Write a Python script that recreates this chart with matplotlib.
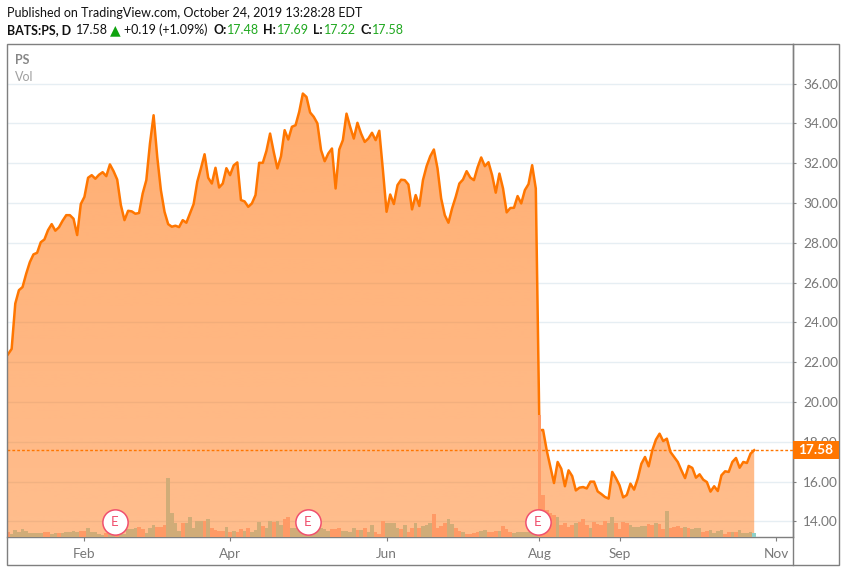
import numpy as np
import matplotlib
matplotlib.use('Agg')
import matplotlib.pyplot as plt
from matplotlib.lines import Line2D
from matplotlib.patches import Rectangle

W, H = 846, 572

# daily closes
close = [22.40, 22.67, 24.95, 25.62, 25.78, 26.45, 27.03, 27.42, 27.50, 28.03,
         28.17, 28.64, 28.94, 28.61, 28.78, 29.11, 29.39, 29.39, 29.21, 28.39,
         29.95, 30.31, 31.27, 31.40, 31.22, 31.42, 31.55, 31.35, 31.94, 31.60,
         31.18, 29.90, 29.14, 29.61, 29.58, 29.46, 29.50, 30.48, 31.15, 32.99,
         34.41, 32.32, 30.65, 29.56, 28.94, 28.81, 28.86, 28.79, 29.14, 29.01,
         29.48, 29.95, 31.07, 31.74, 32.45, 31.27, 30.98, 31.77, 30.78, 30.98,
         31.75, 31.40, 31.89, 32.04, 30.15, 30.08, 29.81, 29.98, 30.40, 32.02,
         32.02, 32.62, 33.49, 32.57, 31.74, 32.35, 33.66, 33.19, 33.83, 33.91,
         34.58, 35.50, 35.33, 34.55, 34.33, 34.00, 32.66, 32.10, 32.49, 32.74,
         30.73, 32.69, 33.16, 34.49, 33.83, 33.24, 34.03, 33.49, 33.07, 33.24,
         33.53, 33.16, 33.63, 31.65, 29.56, 30.43, 29.95, 30.90, 31.17, 31.15,
         30.93, 29.68, 30.40, 29.85, 31.15, 31.85, 32.35, 32.69, 31.74, 30.23,
         29.39, 29.01, 29.73, 30.31, 30.98, 31.18, 31.60, 31.28, 31.15, 31.79,
         32.29, 31.85, 32.05, 31.40, 30.52, 31.48, 30.73, 29.53, 29.75, 29.76,
         30.35, 29.98, 30.65, 30.95, 31.90, 30.73, 18.58, 18.60, 17.57, 16.74,
         15.93, 16.99, 16.65, 15.77, 16.57, 16.28, 15.56, 15.70, 15.73, 15.66,
         16.00, 16.00, 15.51, 15.38, 15.23, 15.15, 16.49, 16.18, 15.82, 15.21,
         15.33, 15.90, 15.60, 16.15, 16.90, 17.24, 16.77, 17.57, 18.11, 18.41,
         18.04, 18.16, 17.49, 17.24, 16.99, 16.57, 16.18, 16.79, 16.69, 16.20,
         16.37, 16.10, 15.98, 15.50, 15.77, 15.53, 16.32, 16.52, 16.49, 16.99,
         17.19, 16.70, 16.99, 16.94, 17.41, 17.58]

# volume, relative units (no scale on the chart)
volume = [14, 8, 21, 14, 24, 18, 12, 12, 12, 12,
          15, 15, 9, 11, 12, 12, 14, 16, 18, 15,
          19, 19, 27, 15, 15, 10, 7, 12, 10, 9,
          6, 8, 10, 24, 24, 28, 30, 25, 12, 28,
          36, 31, 29, 36, 176, 73, 43, 19, 41, 42,
          60, 28, 48, 48, 48, 54, 27, 21, 18, 18,
          30, 16, 18, 16, 24, 18, 27, 16, 21, 45,
          33, 28, 48, 46, 48, 36, 54, 60, 28, 28,
          30, 30, 30, 30, 30, 30, 26, 23, 18, 23,
          23, 27, 18, 18, 14, 27, 22, 22, 26, 16,
          36, 14, 9, 48, 43, 42, 42, 27, 25, 36,
          15, 27, 42, 27, 33, 35, 41, 69, 27, 33,
          41, 54, 39, 27, 18, 15, 9, 9, 12, 15,
          18, 21, 15, 15, 18, 18, 33, 24, 15, 12,
          15, 15, 15, 14, 14, 16, 366, 126, 81, 73,
          67, 60, 35, 43, 31, 36, 43, 46, 54, 36,
          27, 46, 40, 36, 48, 43, 60, 42, 24, 45,
          43, 36, 30, 31, 33, 33, 40, 36, 42, 39,
          24, 78, 27, 30, 33, 27, 30, 27, 24, 27,
          27, 15, 19, 21, 13, 18, 21, 9, 15, 15,
          15, 21, 12, 12, 15, 12]

# r = down day, t = up day (last one is today's)
vol_side = list('rttttttttt'
                'rrttrttttt'
                'rrtttttrtt'
                'rtttttrrtt'
                'trrrttttrt'
                'ttttrtrrrr'
                'trtrrtrttt'
                'rttrttrrtt'
                'tttttttttr'
                'rrttttrtrt'
                'trrrttttrt'
                'rrtrtttrrr'
                'rttrrtrrrr'
                'ttrrrtrrrt'
                'ttttttrrrr'
                'rtrrrrtrrr'
                'trrrrttrrr'
                'rtttttrrtr'
                'rtrrrrtrtt'
                'trrttttrrt'
                'rttttu')

price_ticks = [14, 16, 18, 20, 22, 24, 26, 28, 30, 32, 34, 36]
month_pos = [21, 61, 104, 146, 168, 211]
month_lab = ['Feb', 'Apr', 'Jun', 'Aug', 'Sep', 'Nov']
earnings_pos = [29.4, 82.4, 145.6]
last_price = 17.58

GREY = '#7f7f7f'
ORANGE = '#ff7600'
GREEN = '#1fa81f'
x = np.arange(len(close))

plt.rcParams['font.family'] = ['Lato', 'DejaVu Sans']

fig = plt.figure(figsize=(W / 100, H / 100), dpi=100)


def px(a, b):
    return a / W, 1 - b / H


ax = fig.add_axes([7 / W, (H - 537) / H, 786 / W, 493 / H])

# volume on its own hidden scale
ax2 = ax.twinx()
ax2.set_ylim(0, 1479)
ax2.set_axis_off()

ax.set_xlim(-0.275, 215.66)
ax.set_ylim(13.22, 37.99)

ax.set_axisbelow(True)
ax.grid(axis='y', color='#e6eef3', lw=1)
ax.yaxis.tick_right()
ax.set_yticks(price_ticks)
ax.set_yticklabels(['%.2f' % p for p in price_ticks])
ax.set_xticks(month_pos)
ax.set_xticklabels(month_lab)
ax.tick_params(axis='y', length=2.5, width=0.8, color=GREY, labelcolor='#787878', labelsize=9.8, pad=5)
ax.tick_params(axis='x', length=3, width=0.8, color=GREY, labelcolor='#787878', labelsize=9.8, pad=5)
for name in ['top', 'left']:
    ax.spines[name].set_visible(False)
for name in ['right', 'bottom']:
    ax.spines[name].set_color(GREY)
    ax.spines[name].set_linewidth(1)
for name in ax2.spines:
    ax2.spines[name].set_visible(False)

# area under the line, fading slightly towards the bottom
alpha = np.linspace(0.56, 0.45, 256)[:, None]
grad = np.zeros((256, 1, 4))
grad[..., 0] = 1.0
grad[..., 1] = 109 / 255
grad[..., 3] = alpha
poly = ax.fill_between(x, close, 13.22, color='none', lw=0)
img = ax.imshow(grad, extent=[0, x[-1], 13.22, 36], aspect='auto', origin='upper', zorder=2)
img.set_clip_path(poly.get_paths()[0], transform=ax.transData)
ax.set_xlim(-0.275, 215.66)
ax.set_ylim(13.22, 37.99)

ax.plot(x, close, color=ORANGE, lw=1.8, zorder=3, solid_joinstyle='round')
ax.axhline(last_price, color=ORANGE, lw=1, ls=(0, (2, 1.5)), zorder=3)

bar_cols = {'r': '#ff9a66', 't': '#d0ac78', 'u': '#8fd0c8'}
ax2.bar(x, volume, width=1.0, color=[bar_cols[s] for s in vol_side], lw=0, zorder=2)

# earnings markers
ax2.plot(earnings_pos, [45] * 3, 'o', ms=18.2, mfc='white', mec='#f0506e', mew=1.1, zorder=5)
for e in earnings_pos:
    ax2.text(e, 45, 'E', color='#f0506e', fontsize=9.5, ha='center', va='center', zorder=6)

# outer frame and price box
fig.add_artist(Rectangle(px(7, 565), 832 / W, 521 / H, fill=False, ec=GREY, lw=1, transform=fig.transFigure))
fig.add_artist(Line2D([793 / W, 793 / W], [px(0, 44)[1], px(0, 565)[1]], color=GREY, lw=1))
fig.add_artist(Rectangle(px(793, 459), 46 / W, 18 / H, fc=ORANGE, ec='none', transform=fig.transFigure, zorder=5))
fig.text(*px(816, 450), '%.2f' % last_price, color='white', fontsize=9.8, fontweight='bold',
         ha='center', va='center', zorder=6)

fig.text(*px(15, 60), 'PS', color='#868686', fontsize=9, fontweight='bold', va='center')
fig.text(*px(15, 77), 'Vol', color='#a0a0a0', fontsize=9, va='center')

# header
fig.text(*px(6.5, 17), 'Published on TradingView.com, October 24, 2019 13:28:28 EDT',
         color='#111111', fontsize=9.0, va='baseline')
row = [(6.5, 'BATS:PS, D', '#111111', 'bold'), (76, '17.58', '#111111', 'normal'),
       (124, '+0.19 (+1.09%)', '#111111', 'normal'), (213, 'O:', '#111111', 'bold'),
       (227, '17.48', GREEN, 'normal'), (263, 'H:', '#111111', 'bold'), (277, '17.69', GREEN, 'normal'),
       (313, 'L:', '#111111', 'bold'), (324, '17.22', GREEN, 'normal'), (360, 'C:', '#111111', 'bold'),
       (372, '17.58', GREEN, 'normal')]
for xp, s, c, w in row:
    fig.text(*px(xp, 34), s, color=c, fontsize=9.0, fontweight=w, va='baseline')
fig.text(*px(110, 34), '▲', color='#0fa30f', fontsize=10, va='baseline', family='DejaVu Sans')

fig.savefig('out.png', dpi=100)
